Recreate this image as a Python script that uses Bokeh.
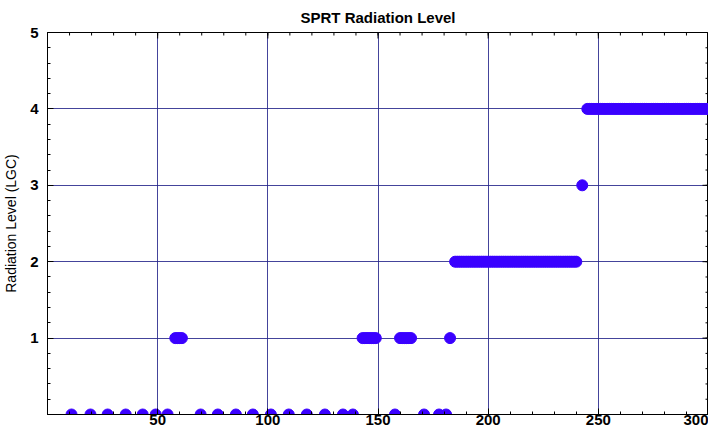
import math
from bokeh.plotting import figure
from bokeh.models import FixedTicker, Range1d, ColumnDataSource
from bokeh.embed import file_html
from bokeh.resources import INLINE

# Data
level0_x = [10.9, 19.5, 27.3, 35.5, 43.2, 49.1, 54.5, 69.5, 77.3, 85.5, 93.2,
            101.4, 109.5, 117.7, 125.9, 134.1, 138.6, 157.7, 170.9, 177.7, 180.9]
level1_x = [58, 59, 60, 61, 143, 144, 145, 146, 147, 148, 149,
            160, 161, 162, 163, 164, 165, 182.7]
level2_x = list(range(185, 241))
level3_x = [242.7]
level4_x = list(range(245, 301))

xs = level0_x + level1_x + level2_x + level3_x + level4_x
ys = ([0] * len(level0_x) + [1] * len(level1_x) + [2] * len(level2_x)
      + [3] * len(level3_x) + [4] * len(level4_x))

x_major = [50, 100, 150, 200, 250, 300]
x_minor = [v for v in range(0, 301, 10)]
y_major = [1, 2, 3, 4, 5]
y_minor = [round(i * 0.2, 1) for i in range(0, 26)]

FONT = "Liberation Sans"
GRID = "#23238a"
MARK = "#3a00ff"

p = figure(width=708, height=427, x_range=Range1d(0, 300), y_range=Range1d(0, 5),
           output_backend="svg", toolbar_location=None,
           title="SPRT Radiation Level",
           min_border_left=40, min_border_right=0, min_border_top=0, min_border_bottom=0)

p.title.align = "center"
p.title.text_font = FONT
p.title.text_font_size = "15px"
p.title.text_font_style = "bold"
p.title.text_color = "black"
p.title.standoff = 13

def style_axis(ax, ticks, minor, standoff):
    ax.ticker = FixedTicker(ticks=ticks, minor_ticks=minor)
    ax.major_tick_in = 6
    ax.major_tick_out = 0
    ax.minor_tick_in = 3
    ax.minor_tick_out = 0
    ax.axis_line_color = "black"
    ax.major_tick_line_color = "black"
    ax.minor_tick_line_color = "black"
    ax.major_label_text_font = FONT
    ax.major_label_text_font_style = "bold"
    ax.major_label_text_font_size = "15px"
    ax.major_label_text_color = "black"
    ax.major_label_standoff = standoff

style_axis(p.xaxis[0], x_major, x_minor, 0)
style_axis(p.yaxis[0], y_major, y_minor, 9)
p.yaxis[0].major_label_orientation = "horizontal"
p.yaxis[0].axis_label = "Radiation Level (LGC)"
p.yaxis[0].axis_label_text_font = FONT
p.yaxis[0].axis_label_text_font_style = "normal"
p.yaxis[0].axis_label_text_font_size = "14px"
p.yaxis[0].axis_label_text_color = "black"
p.yaxis[0].axis_label_standoff = 8

p.xgrid.ticker = FixedTicker(ticks=x_major)
p.ygrid.ticker = FixedTicker(ticks=y_major)
p.xgrid.grid_line_color = GRID
p.ygrid.grid_line_color = GRID
p.xgrid.grid_line_alpha = 0.85
p.ygrid.grid_line_alpha = 0.85
p.outline_line_color = "black"
p.outline_line_alpha = 1.0

# mirrored ticks on the top and right edges (half of each dash is clipped by the frame)
p.scatter(x=x_minor, y=[5] * len(x_minor), marker="dash", size=6, angle=math.pi / 2,
          line_color="black", line_width=1)
p.scatter(x=x_major, y=[5] * len(x_major), marker="dash", size=12, angle=math.pi / 2,
          line_color="black", line_width=1)
p.scatter(x=[300] * len(y_minor), y=y_minor, marker="dash", size=6,
          line_color="black", line_width=1)
p.scatter(x=[300] * len(y_major), y=y_major, marker="dash", size=12,
          line_color="black", line_width=1)

src = ColumnDataSource(dict(x=xs, y=ys))
p.scatter("x", "y", source=src, size=11, color=MARK, line_color=MARK)

open("out.html", "w").write(file_html(p, INLINE))
